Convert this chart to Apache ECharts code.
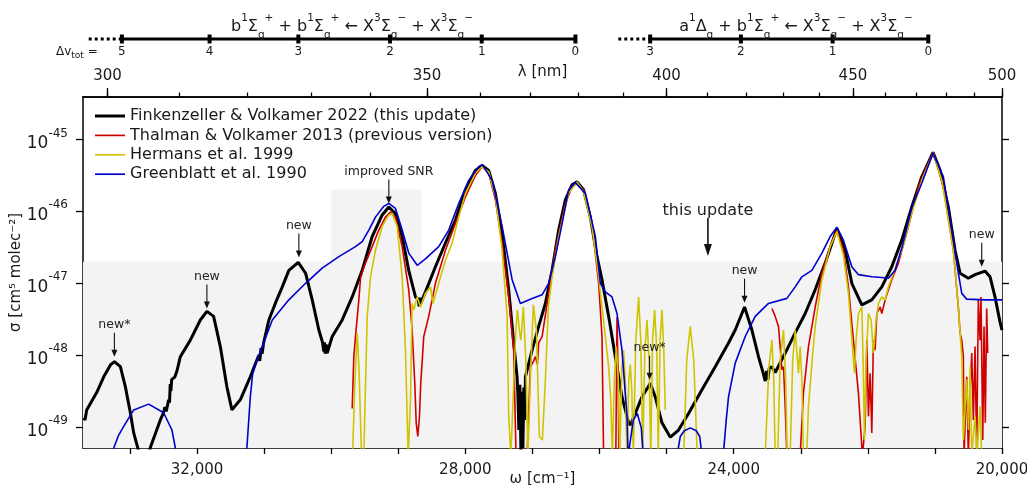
<!DOCTYPE html>
<html><head><meta charset="utf-8">
<script src="https://cdn.jsdelivr.net/npm/echarts@6/dist/echarts.min.js"></script>
<style>html,body{margin:0;padding:0;background:#fff}#c{width:1027px;height:485px}</style>
</head><body><div id="c"></div>
<script>
const F = 'DejaVu Sans';
const TXT = '#1a1a1a';

// ---- data: [wavenumber ω (cm^-1), log10 σ (cm^5 molec^-2)] ----
const finkenzeller2022 = [[33689,-48.87],[33670,-48.90],[33645,-48.76],[33496,-48.52],[33391,-48.30],[33287,-48.13],[33232,-48.09],[33143,-48.16],[33068,-48.44],[32994,-48.80],[32944,-49.08],[32795,-49.59],[32691,-49.27],[32547,-48.90],[32500,-48.80],[32480,-48.72],[32460,-48.78],[32423,-48.62],[32410,-48.66],[32400,-48.40],[32390,-48.50],[32378,-48.34],[32330,-48.30],[32300,-48.22],[32249,-48.02],[32100,-47.79],[31951,-47.51],[31853,-47.39],[31753,-47.46],[31653,-47.88],[31555,-48.44],[31480,-48.76],[31355,-48.62],[31206,-48.30],[31080,-48.00],[31065,-48.08],[31045,-47.90],[31030,-47.98],[31008,-47.83],[30929,-47.51],[30829,-47.27],[30729,-47.05],[30631,-46.82],[30491,-46.71],[30382,-46.86],[30283,-47.23],[30184,-47.65],[30130,-47.82],[30110,-47.95],[30100,-47.82],[30090,-47.98],[30075,-47.85],[30060,-47.97],[29985,-47.74],[29836,-47.51],[29687,-47.19],[29538,-46.82],[29389,-46.35],[29240,-46.05],[29141,-45.94],[29042,-46.03],[28942,-46.35],[28844,-46.82],[28744,-47.19],[28700,-47.22],[28690,-47.32],[28680,-47.20],[28670,-47.29],[28595,-47.12],[28446,-46.77],[28297,-46.44],[28148,-46.12],[27999,-45.70],[27850,-45.43],[27750,-45.36],[27652,-45.43],[27552,-45.75],[27452,-46.31],[27354,-47.09],[27279,-47.83],[27229,-48.30],[27217,-48.55],[27202,-49.04],[27187,-48.41],[27172,-49.32],[27157,-48.51],[27142,-49.29],[27128,-48.45],[27113,-48.90],[27105,-48.30],[27005,-47.93],[26907,-47.60],[26807,-47.28],[26707,-46.82],[26609,-46.26],[26509,-45.84],[26410,-45.63],[26335,-45.59],[26237,-45.70],[26137,-46.08],[26037,-46.63],[25963,-46.95],[25864,-47.46],[25764,-48.02],[25665,-48.58],[25566,-48.94],[25541,-48.97],[25467,-48.81],[25367,-48.58],[25243,-48.39],[25169,-48.58],[25069,-48.94],[24945,-49.14],[24822,-49.04],[24673,-48.81],[24473,-48.48],[24275,-48.16],[24077,-47.83],[23977,-47.65],[23838,-47.33],[23728,-47.65],[23630,-48.02],[23560,-48.25],[23530,-48.36],[23510,-48.22],[23490,-48.34],[23470,-48.18],[23430,-48.16],[23381,-48.24],[23232,-47.97],[23083,-47.69],[22934,-47.42],[22785,-47.09],[22636,-46.72],[22462,-46.24],[22338,-46.54],[22239,-47.00],[22090,-47.30],[21941,-47.23],[21792,-47.05],[21643,-46.77],[21494,-46.40],[21345,-45.94],[21196,-45.52],[21028,-45.18],[20923,-45.43],[20800,-45.94],[20700,-46.54],[20625,-46.86],[20502,-46.93],[20402,-46.88],[20253,-46.83],[20178,-46.91],[20104,-47.19],[20029,-47.54],[20000,-47.65]];

const thalman2013 = [[29687,-48.74],[29663,-48.02],[29638,-47.74],[29588,-47.23],[29563,-46.93],[29538,-46.93],[29518,-46.79],[29489,-46.72],[29389,-46.49],[29290,-46.26],[29191,-46.08],[29116,-46.01],[29042,-46.08],[28942,-46.49],[28844,-47.09],[28793,-47.65],[28754,-48.39],[28733,-48.94],[28709,-49.13],[28684,-48.85],[28665,-48.39],[28620,-47.74],[28546,-47.46],[28446,-47.00],[28297,-46.54],[28148,-46.17],[27999,-45.80],[27850,-45.50],[27750,-45.38],[27652,-45.47],[27552,-45.84],[27452,-46.44],[27354,-47.19],[27279,-47.93],[27244,-49.4],[27080,-49.4],[27060,-48.90],[27031,-48.16],[26986,-48.09],[26956,-48.02],[26926,-48.13],[26907,-47.83],[26856,-47.74],[26758,-47.14],[26658,-46.54],[26509,-45.89],[26410,-45.66],[26335,-45.61],[26237,-45.70],[26112,-46.17],[26013,-47.00],[25963,-47.74],[25939,-49.4],[25757,-49.4],[25739,-47.47],[25720,-48.48],[25712,-49.4],[23500,null],[23430,-47.35],[23381,-47.46],[23332,-47.60],[23307,-47.88],[23281,-48.20],[23257,-48.16],[23232,-48.71],[23207,-49.4],[23009,-49.4],[22960,-48.53],[22885,-47.88],[22785,-47.33],[22685,-46.86],[22562,-46.49],[22462,-46.26],[22364,-46.54],[22289,-47.05],[22215,-47.79],[22140,-48.53],[22081,-49.4],[22040,-48.99],[22015,-47.79],[21991,-48.85],[21966,-48.25],[21941,-49.08],[21917,-47.79],[21892,-47.93],[21866,-47.42],[21817,-47.33],[21792,-47.42],[21742,-47.23],[21643,-46.95],[21544,-46.72],[21395,-46.21],[21247,-45.66],[21147,-45.43],[21025,-45.18],[20874,-45.66],[20725,-46.54],[20651,-47.33],[20625,-47.69],[20600,-47.79],[20576,-48.02],[20566,-49.4],[20526,-48.30],[20502,-49.4],[20476,-48.53],[20451,-47.97],[20427,-48.90],[20402,-47.88],[20377,-49.4],[20353,-47.23],[20328,-47.79],[20313,-47.19],[20287,-49.18],[20268,-47.60],[20249,-48.94],[20228,-47.35],[20213,-47.97]];

const hermans1999 = [[29682,-49.4],[29645,-48.34],[29612,-47.69],[29585,-48.20],[29548,-49.4],[29514,-49.4],[29463,-47.46],[29414,-46.91],[29340,-46.54],[29240,-46.21],[29141,-46.05],[29091,-46.03],[29016,-46.21],[28942,-46.91],[28893,-47.93],[28852,-49.4],[28818,-48.62],[28793,-47.28],[28769,-47.37],[28718,-47.19],[28669,-47.33],[28595,-47.14],[28520,-47.05],[28483,-47.28],[28397,-47.00],[28297,-46.68],[28197,-46.44],[28099,-46.08],[27999,-45.75],[27850,-45.47],[27750,-45.38],[27652,-45.45],[27552,-45.80],[27452,-46.54],[27378,-47.46],[27354,-48.85],[27321,-49.4],[27277,-48.34],[27247,-47.65],[27224,-47.37],[27195,-47.65],[27172,-47.79],[27135,-47.33],[27098,-48.07],[27068,-49.4],[27031,-48.34],[26986,-47.30],[26941,-47.65],[26897,-49.13],[26852,-49.18],[26807,-48.34],[26763,-47.33],[26707,-46.91],[26609,-46.35],[26460,-45.75],[26335,-45.59],[26237,-45.73],[26112,-46.21],[26013,-46.91],[25963,-47.33],[25913,-47.74],[25864,-48.16],[25832,-48.62],[25809,-49.4],[25779,-48.34],[25750,-47.88],[25720,-48.34],[25697,-49.4],[25668,-48.20],[25641,-47.93],[25616,-48.34],[25593,-49.4],[25563,-48.34],[25541,-48.13],[25519,-48.48],[25496,-49.4],[25459,-47.79],[25417,-47.19],[25385,-47.79],[25355,-49.4],[25325,-47.93],[25292,-47.51],[25262,-48.07],[25236,-49.4],[25209,-47.79],[25179,-47.37],[25146,-47.93],[25124,-49.4],[25097,-47.79],[25069,-47.37],[25042,-47.93],[25020,-48.76],[24900,null],[24744,-49.4],[24700,-48.07],[24647,-47.60],[24595,-48.07],[24543,-49.4],[23530,-49.4],[23478,-48.20],[23430,-47.79],[23403,-48.34],[23381,-49.4],[23344,-49.4],[23307,-48.07],[23257,-47.65],[23225,-48.34],[23202,-49.4],[23158,-49.4],[23120,-48.07],[23083,-47.65],[23034,-48.25],[23009,-47.88],[22983,-48.34],[22960,-49.4],[22912,-49.4],[22885,-48.71],[22830,-48.07],[22785,-47.60],[22685,-46.95],[22562,-46.49],[22462,-46.28],[22364,-46.61],[22289,-47.14],[22230,-47.88],[22200,-48.25],[22175,-47.79],[22140,-47.42],[22090,-47.33],[22070,-48.07],[22051,-49.18],[22026,-48.07],[21991,-47.42],[21951,-47.51],[21917,-47.97],[21877,-47.51],[21842,-47.28],[21792,-47.19],[21742,-47.23],[21693,-47.05],[21619,-46.86],[21494,-46.54],[21345,-46.03],[21196,-45.57],[21025,-45.19],[20898,-45.57],[20725,-46.54],[20651,-47.33],[20600,-48.02],[20576,-49.18],[20526,-48.34],[20499,-49.04],[20476,-48.16],[20451,-49.4],[20402,-48.85],[20372,-49.4],[20328,-48.71],[20302,-49.4]];

const greenblatt1990 = [[33287,-49.45],[33242,-49.29],[33168,-49.11],[33093,-48.99],[32944,-48.76],[32721,-48.68],[32498,-48.80],[32374,-49.04],[32323,-49.29],[32304,-49.45],[31276,-49.45],[31257,-49.29],[31206,-48.58],[31172,-48.27],[31108,-48.07],[31008,-47.83],[30878,-47.51],[30631,-47.23],[30382,-47.00],[30134,-46.79],[29886,-46.63],[29638,-46.49],[29538,-46.42],[29439,-46.26],[29340,-46.08],[29216,-45.93],[29141,-45.89],[29042,-45.96],[28942,-46.26],[28844,-46.58],[28718,-46.75],[28595,-46.66],[28397,-46.49],[28248,-46.26],[28099,-45.89],[27950,-45.57],[27801,-45.38],[27746,-45.35],[27601,-45.57],[27452,-46.21],[27303,-46.95],[27180,-47.28],[27005,-47.21],[26856,-47.16],[26758,-47.00],[26658,-46.63],[26558,-46.17],[26460,-45.70],[26360,-45.60],[26211,-45.75],[26062,-46.35],[25988,-47.00],[25913,-47.12],[25814,-47.19],[25739,-47.42],[25665,-47.93],[25590,-48.85],[25573,-49.4],[25549,-49.4],[25496,-48.90],[25437,-48.81],[25377,-49.01],[25348,-49.4],[24845,-49.4],[24796,-49.13],[24737,-49.05],[24647,-49.01],[24558,-49.05],[24506,-49.13],[24473,-49.4],[24156,-49.4],[24111,-48.90],[24077,-48.58],[23977,-48.11],[23828,-47.74],[23679,-47.46],[23481,-47.28],[23207,-47.21],[23083,-47.05],[22983,-46.91],[22834,-46.82],[22685,-46.58],[22562,-46.35],[22462,-46.22],[22364,-46.40],[22239,-46.77],[22140,-46.88],[21941,-46.91],[21792,-46.92],[21693,-46.93],[21594,-46.82],[21494,-46.51],[21345,-45.95],[21196,-45.61],[21028,-45.19],[20874,-45.52],[20725,-46.40],[20651,-46.86],[20600,-47.14],[20526,-47.22],[20253,-47.23],[20000,-47.23]];

// axis ticks / labels
const omegaTicks = [20000,21000,22000,23000,24000,25000,26000,27000,28000,29000,30000,31000,32000,33000];
const omegaLabels = [20000,24000,28000,32000];
const lambdaMinor = [300,310,320,330,340,350,360,370,380,390,400,410,420,430,440,450,460,470,480,490,500];
const lambdaMajor = [300,350,400,450,500];
const logTicks = [-49,-48,-47,-46,-45];

// band progressions (Δv_tot)
const bandBB = [33120,31813,30490,29123,27756,26359];
const bandBBLabels = ['5','4','3','2','1','0'];
const bandAB = [25245,23892,22525,21099];
const bandABLabels = ['3','2','1','0'];
const bandBBExt = [33615,33120];
const bandABExt = [25720,25245];

// shaded region: σ < 2e-47 everywhere, σ < 2e-46 in the improved-SNR window
const shadeLimit = Math.log10(2e-47);
const shadeLimitBox = Math.log10(2e-46);
const shadeBox = [30000,28650];

// annotations
const annoOmega = [33232,31853,30482,29141,24384,25254,23838,20302];
const annoLog = [-48.02,-47.35,-46.64,-45.89,-46.62,-48.34,-47.27,-46.77];
const annoText = ['new*','new','new','improved SNR','this update','new*','new','new'];

const X0 = 20000, X1 = 33700, Y0 = -49.29, Y1 = -44.41;

function toData(arr){ return arr.map(p => [p[0], p[1] === null ? '-' : p[1]]); }

const axisLineStyle = {color:'#000', width:1.5};
const tickStyle = {color:'#000', width:1.3};

const chart = echarts.init(document.getElementById('c'));

const lineSeries = (name, data, color, width, z) => ({
  type:'line', name, data: toData(data), xAxisIndex:0, yAxisIndex:0,
  symbol:'none', showSymbol:false, smooth:false, connectNulls:false,
  lineStyle:{color, width}, itemStyle:{color}, z, silent:true, clip:true
});

const titleRich = {
  m:{fontSize:16, fontFamily:F, color:TXT, lineHeight:28, verticalAlign:'middle'},
  p:{fontSize:10.5, fontFamily:F, color:TXT, lineHeight:11, verticalAlign:'top'},
  b:{fontSize:10.5, fontFamily:F, color:TXT, lineHeight:11, verticalAlign:'bottom'}
};

const legendIcon = w => 'path://M0,0H30V' + w + 'H0Z';

chart.setOption({
  animation:false,
  backgroundColor:'#fff',
  grid:[
    {left:83, right:25, top:97, bottom:37, containLabel:false, outerBoundsMode:'none'},
    {left:83, right:25, top:25, height:28, containLabel:false, outerBoundsMode:'none'}
  ],
  legend:{
    orient:'vertical', left:95, top:108, padding:0, itemWidth:30, itemHeight:14, itemGap:3.4,
    textStyle:{fontFamily:F, fontSize:16, color:TXT},
    data:[
      {name:'Finkenzeller & Volkamer 2022 (this update)', icon:legendIcon(3)},
      {name:'Thalman & Volkamer 2013 (previous version)', icon:legendIcon(1.7)},
      {name:'Hermans et al. 1999', icon:legendIcon(1.7)},
      {name:'Greenblatt et al. 1990', icon:legendIcon(1.7)}
    ]
  },
  xAxis:[
    {gridIndex:0, type:'value', min:X0, max:X1, inverse:true, position:'bottom',
     name:'ω [cm⁻¹]', nameLocation:'middle', nameGap:24, nameMoveOverlap:false,
     nameTextStyle:{fontFamily:F, fontSize:15, color:TXT},
     axisLine:{show:true, onZero:false, lineStyle:axisLineStyle},
     axisTick:{show:true, inside:false, length:6, customValues:omegaTicks, lineStyle:tickStyle},
     axisLabel:{customValues:omegaLabels, formatter:v => Number(v).toLocaleString('en-US'), margin:15,
       fontFamily:F, fontSize:15, color:TXT},
     splitLine:{show:false}},
    {gridIndex:0, type:'value', min:X0, max:X1, inverse:true, position:'top',
     axisLine:{show:true, onZero:false, lineStyle:axisLineStyle},
     axisTick:{show:true, inside:false, length:4.5, customValues:lambdaMinor.map(l => 1e7/l), lineStyle:tickStyle},
     axisLabel:{show:false}, splitLine:{show:false}},
    {gridIndex:0, type:'value', min:X0, max:X1, inverse:true, position:'top',
     name:'λ [nm]', nameLocation:'middle', nameGap:17, nameMoveOverlap:false,
     nameTextStyle:{fontFamily:F, fontSize:15, color:TXT},
     axisLine:{show:true, onZero:false, lineStyle:axisLineStyle},
     axisTick:{show:true, inside:false, length:9, customValues:lambdaMajor.map(l => 1e7/l), lineStyle:tickStyle},
     axisLabel:{customValues:lambdaMajor.map(l => 1e7/l), formatter:v => String(Math.round(1e7/v)), margin:13,
       fontFamily:F, fontSize:15, color:TXT},
     splitLine:{show:false}},
    {gridIndex:1, type:'value', min:X0, max:X1, inverse:true, show:false}
  ],
  yAxis:[
    {gridIndex:0, type:'value', min:Y0, max:Y1, position:'left',
     name:'σ [cm⁵ molec⁻²]', nameLocation:'middle', nameGap:59, nameRotate:90, nameMoveOverlap:false,
     nameTextStyle:{fontFamily:F, fontSize:15, color:TXT},
     axisLine:{show:true, onZero:false, lineStyle:axisLineStyle},
     axisTick:{show:true, inside:false, length:7, customValues:logTicks, lineStyle:tickStyle},
     axisLabel:{customValues:logTicks, margin:15,
       formatter:v => '{b|10}{s|' + Math.round(v) + '}',
       rich:{b:{fontFamily:F, fontSize:17, color:TXT, lineHeight:26, verticalAlign:'bottom'},
             s:{fontFamily:F, fontSize:12, color:TXT, lineHeight:12, verticalAlign:'top', padding:[1,0,0,0]}}},
     splitLine:{show:false}},
    {gridIndex:0, type:'value', min:Y0, max:Y1, position:'right',
     axisLine:{show:true, onZero:false, lineStyle:axisLineStyle},
     axisTick:{show:true, inside:false, length:7, customValues:logTicks, lineStyle:tickStyle},
     axisLabel:{show:false}, splitLine:{show:false}},
    {gridIndex:1, type:'value', min:0, max:1, show:false}
  ],
  graphic:[
    {type:'text', x:352, y:27, z:10, style:{
      text:'{m|b}{p|1}{m|Σ}{b|g}{p|+}{m| + b}{p|1}{m|Σ}{b|g}{p|+}{m| ← X}{p|3}{m|Σ}{b|g}{p|−}{m| + X}{p|3}{m|Σ}{b|g}{p|−}',
      rich:titleRich, align:'center', verticalAlign:'middle', fill:TXT}},
    {type:'text', x:796, y:27, z:10, style:{
      text:'{m|a}{p|1}{m|Δ}{b|g}{m| + b}{p|1}{m|Σ}{b|g}{p|+}{m| ← X}{p|3}{m|Σ}{b|g}{p|−}{m| + X}{p|3}{m|Σ}{b|g}{p|−}',
      rich:titleRich, align:'center', verticalAlign:'middle', fill:TXT}},
    {type:'text', x:56, y:52, z:10, style:{
      text:'{a|Δv}{s|tot}{a| =}',
      rich:{a:{fontFamily:F, fontSize:12, color:TXT, lineHeight:16, verticalAlign:'middle'},
            s:{fontFamily:F, fontSize:9, color:TXT, lineHeight:9, verticalAlign:'bottom'}},
      align:'left', verticalAlign:'middle', fill:TXT}}
  ],
  series:[
    {type:'line', name:'shade', xAxisIndex:0, yAxisIndex:0, data:[], silent:true, z:0,
     markArea:{silent:true, itemStyle:{color:'#f3f3f3', borderWidth:0}, label:{show:false},
       data:[
         [{xAxis:X1, yAxis:Y0},{xAxis:X0, yAxis:shadeLimit}],
         [{xAxis:shadeBox[0], yAxis:Y0},{xAxis:shadeBox[1], yAxis:shadeLimitBox}]
       ]}},
    lineSeries('Finkenzeller & Volkamer 2022 (this update)', finkenzeller2022, '#000000', 3, 2),
    lineSeries('Thalman & Volkamer 2013 (previous version)', thalman2013, '#d10000', 1.6, 3),
    lineSeries('Hermans et al. 1999', hermans1999, '#cfc400', 1.6, 3),
    lineSeries('Greenblatt et al. 1990', greenblatt1990, '#0000cc', 1.6, 4),
    {type:'custom', name:'annotations', xAxisIndex:0, yAxisIndex:0, z:10, silent:true,
     data:annoOmega.map((w,i) => [w, annoLog[i]]),
     renderItem:function(params, api){
       const i = params.dataIndex;
       const p = api.coord([api.value(0), api.value(1)]);
       const big = annoText[i] === 'this update';
       const L = big ? 38 : 24;
       const hh = big ? 12 : 7, hw = big ? 4 : 3;
       const fs = big ? 16 : 12.5;
       return {type:'group', children:[
         {type:'line', shape:{x1:p[0], y1:p[1]-L, x2:p[0], y2:p[1]-hh+1}, style:{stroke:'#111', lineWidth:big?1.6:1.1}},
         {type:'polygon', shape:{points:[[p[0]-hw,p[1]-hh],[p[0]+hw,p[1]-hh],[p[0],p[1]]]}, style:{fill:'#111'}},
         {type:'text', x:p[0], y:big ? p[1]-L+1 : p[1]-L-1, style:{text:annoText[i], fill:'#222',
           fontFamily:F, fontSize:fs, align:'center', verticalAlign:'bottom'}}
       ]};
     }},
    {type:'line', xAxisIndex:3, yAxisIndex:2, data:bandBBExt.map(w => [w,0.5]), symbol:'none', silent:true,
     lineStyle:{color:'#000', width:3, type:[3,3]}},
    {type:'line', xAxisIndex:3, yAxisIndex:2, data:bandABExt.map(w => [w,0.5]), symbol:'none', silent:true,
     lineStyle:{color:'#000', width:3, type:[3,3]}},
    {type:'line', xAxisIndex:3, yAxisIndex:2, data:bandBB.map(w => [w,0.5]), symbol:'rect', symbolSize:[4,9], showSymbol:true, silent:true,
     lineStyle:{color:'#000', width:3}, itemStyle:{color:'#000'},
     label:{show:true, position:'bottom', distance:2, formatter:p => bandBBLabels[p.dataIndex], fontFamily:F, fontSize:12, color:TXT}},
    {type:'line', xAxisIndex:3, yAxisIndex:2, data:bandAB.map(w => [w,0.5]), symbol:'rect', symbolSize:[4,9], showSymbol:true, silent:true,
     lineStyle:{color:'#000', width:3}, itemStyle:{color:'#000'},
     label:{show:true, position:'bottom', distance:2, formatter:p => bandABLabels[p.dataIndex], fontFamily:F, fontSize:12, color:TXT}}
  ]
});
</script></body></html>
